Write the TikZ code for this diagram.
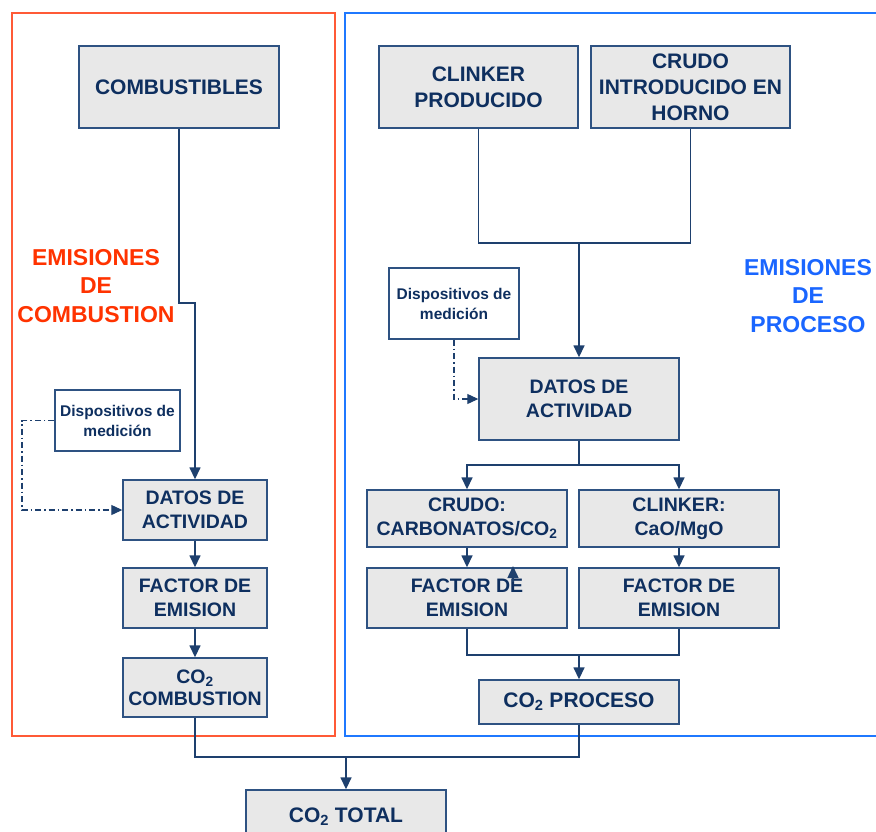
\documentclass[tikz,border=0pt]{standalone}
\usepackage{fontspec}
\setmainfont{Liberation Sans}
\usetikzlibrary{arrows.meta}
\definecolor{navy}{HTML}{0E2F5F}
\definecolor{boxline}{HTML}{2E5282}
\definecolor{boxfill}{HTML}{E8E8E8}
\definecolor{wire}{HTML}{1E406E}
\definecolor{redframe}{HTML}{FF5A36}
\definecolor{redtext}{HTML}{FF3300}
\definecolor{blueframe}{HTML}{1F78FF}
\definecolor{bluetext}{HTML}{1A66FF}
\tikzset{
  flowbox/.style={draw=boxline, fill=boxfill, line width=1.4pt, text=navy,
    align=center, inner sep=0pt, font=\bfseries\fontsize{19.5}{24}\selectfont},
  bigbox/.style={flowbox, font=\bfseries\fontsize{21}{26}\selectfont},
  devbox/.style={draw=boxline, fill=white, line width=1.4pt, text=navy,
    align=center, inner sep=0pt, font=\bfseries\fontsize{15.5}{20}\selectfont},
  conn/.style={draw=wire, line width=1.5pt},
  arr/.style={conn, -{Triangle[width=11pt,length=12pt]}},
  dashlink/.style={conn, line width=1.1pt, dash pattern=on 6pt off 3pt on 1.5pt off 3pt,
    -{Triangle[width=10pt,length=11pt]}},
  framelabel/.style={align=center, font=\bfseries\fontsize{23}{28.5}\selectfont},
}
\newcommand{\cotwo}{CO\textsubscript{2}}
\begin{document}
\begin{tikzpicture}[x=1pt,y=-1pt]
\useasboundingbox (0,0) rectangle (876,831);
\clip (0,0) rectangle (876,831);

% group frames
\draw[redframe, line width=1.6pt] (12,13) rectangle (335,736);
\draw[blueframe, line width=1.6pt] (345,13) rectangle (900,736);

\node[framelabel, text=redtext] (lblcomb) at (96,286) {EMISIONES\\DE\\COMBUSTION};
\node[framelabel, text=bluetext] (lblproc) at (808,296) {EMISIONES\\DE\\PROCESO};

% combustion branch
\node[bigbox, minimum width=200, minimum height=82] (comb) at (179,87) {COMBUSTIBLES};
\node[devbox, minimum width=125, minimum height=61] (devL) at (117.5,420.5) {Dispositivos de\\medición};
\node[flowbox, minimum width=144, minimum height=60] (datL) at (195,510) {DATOS DE\\ACTIVIDAD};
\node[flowbox, minimum width=144, minimum height=60] (facL) at (195,598) {FACTOR DE\\EMISION};
\node[flowbox, minimum width=144, minimum height=59] (co2c) at (195,687.5) {\cotwo\\[-2pt]COMBUSTION};

% process branch
\node[bigbox, minimum width=199, minimum height=82] (clk) at (478.5,87) {CLINKER\\PRODUCIDO};
\node[bigbox, minimum width=199, minimum height=82] (crudo) at (690.5,87) {CRUDO\\INTRODUCIDO EN\\HORNO};
\node[devbox, minimum width=130, minimum height=71] (devR) at (454,303.5) {Dispositivos de\\medición};
\node[flowbox, minimum width=200, minimum height=82] (datR) at (579,399) {DATOS DE\\ACTIVIDAD};
\node[flowbox, minimum width=200, minimum height=57] (carb) at (467,518.5) {CRUDO:\\CARBONATOS/\cotwo};
\node[flowbox, minimum width=200, minimum height=57] (cao) at (679,518.5) {CLINKER:\\CaO/MgO};
\node[flowbox, minimum width=200, minimum height=60] (facR1) at (467,598) {FACTOR DE\\EMISION};
\node[flowbox, minimum width=200, minimum height=60] (facR2) at (679,598) {FACTOR DE\\EMISION};
\node[bigbox, minimum width=200, minimum height=44] (co2p) at (579,702) {\cotwo{} PROCESO};

% total
\node[bigbox, minimum width=200, minimum height=60] (total) at (346,820) {\raisebox{10pt}{\cotwo{} TOTAL}};

% junction points
\coordinate (kinkL) at (179,303);
\coordinate (bendL) at (22,0);
\coordinate (joinTop) at (579,243);
\coordinate (fork) at (579,465);
\coordinate (joinFac) at (579,655);
\coordinate (joinTot) at (346,757);
\coordinate (stubA) at (513,582);
\coordinate (stubB) at (513,566);

% combustion connectors
\draw[arr] (comb.south) -- (kinkL) -| (datL.north);
\draw[dashlink] (devL.west) -| (bendL |- datL.west) -- (datL.west);
\draw[arr] (datL) -- (facL);
\draw[arr] (facL) -- (co2c);

% process connectors
\draw[conn] (clk.south) |- (joinTop) -| (crudo.south);
\draw[arr] (joinTop) -- (datR.north);
\draw[dashlink] (devR.south) |- (datR.west);
\draw[conn] (datR.south) -- (fork);
\draw[arr] (fork) -| (carb.north);
\draw[arr] (fork) -| (cao.north);
\draw[arr] (carb) -- (facR1);
\draw[arr] (cao) -- (facR2);
\draw[arr] (stubA) -- (stubB);
\draw[conn] (facR1.south) |- (joinFac) -| (facR2.south);
\draw[arr] (joinFac) -- (co2p.north);

% totals
\draw[conn] (co2c.south) |- (joinTot);
\draw[conn] (co2p.south) |- (joinTot);
\draw[arr] (joinTot) -- (total.north);
\end{tikzpicture}
\end{document}
